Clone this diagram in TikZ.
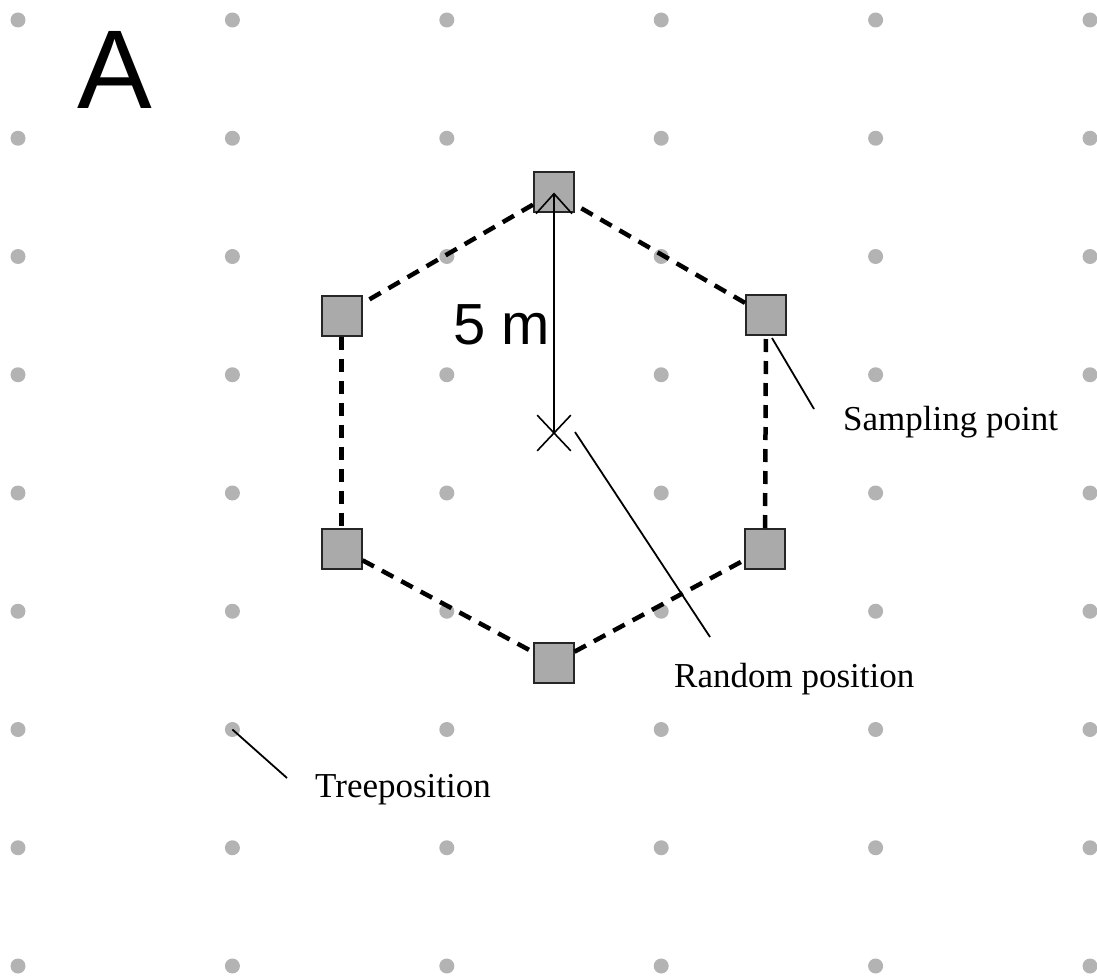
\documentclass[tikz,border=0pt]{standalone}
\usepackage{fontspec}
\setmainfont{Liberation Serif}
\newfontfamily\arialfont{Liberation Sans}
\usetikzlibrary{arrows.meta,shapes.misc}
\definecolor{dotgray}{HTML}{B3B3B3}
\definecolor{boxgray}{HTML}{AAAAAA}
\begin{document}
\begin{tikzpicture}[x=1pt,y=-1pt,
  treedot/.style={circle,fill=dotgray,inner sep=0,minimum size=15pt},
  sample/.style={draw=black!85,line width=2pt,fill=boxgray,minimum size=40pt,inner sep=0},
  plotedge/.style={line width=4.5pt,dash pattern=on 13pt off 9pt},
  leader/.style={line width=1.8pt},
  labeltext/.style={inner sep=0,anchor=base west,font=\fontsize{35}{42}\selectfont},
]
\useasboundingbox (0,0) rectangle (1097,976);

% grid of tree positions
\foreach \i in {0,...,5}
  \foreach \j in {0,...,8}
    \node[treedot] (d\i-\j) at ({18+214.4*\i},{20+118.25*\j}) {};

% panel letter
\node[inner sep=0,anchor=base west,font=\arialfont\fontsize{112}{120}\selectfont] (panel) at (77,109) {A};

% sampling points on the hexagon
\node[sample] (top) at (554,192.5) {};
\node[sample] (ul)  at (341.5,315.5) {};
\node[sample] (ur)  at (766,315) {};
\node[sample] (ll)  at (341.5,549) {};
\node[sample] (lr)  at (765,549) {};
\node[sample] (bot) at (553.5,663) {};

\draw[plotedge] (top) -- (ul);
\draw[plotedge] (ul) -- (ll);
\draw[plotedge] (ll) -- (bot);
\draw[plotedge] (bot) -- (lr);
\draw[plotedge] (lr) -- (ur);
\draw[plotedge] (ur) -- (top);

% plot centre and radius
\node[cross out,draw,line width=1.6pt,minimum width=32pt,minimum height=34pt,inner sep=0] (rp) at (554,433) {};
\draw[line width=1.6pt,-{Straight Barb[length=20pt,width=36pt]}] (rp.center) -- (top.center);
\node[inner sep=0,anchor=base west,font=\arialfont\fontsize{58}{62}\selectfont] (dist) at (453,344) {5 m};

% labels
\node[labeltext] (splab) at (843,430) {Sampling point};
\node[labeltext] (rplab) at (674,687) {Random position};
\node[labeltext] (tplab) at (315,797) {Treeposition};

\coordinate (spstart) at (772,338);
\coordinate (spend) at (814,409);
\coordinate (rpstart) at (575,432);
\coordinate (rpend) at (710,637);
\coordinate (tpend) at (287,778);

\draw[leader] (spstart) -- (spend);
\draw[leader] (rpstart) -- (rpend);
\draw[leader] (d1-6.center) -- (tpend);
\end{tikzpicture}
\end{document}
